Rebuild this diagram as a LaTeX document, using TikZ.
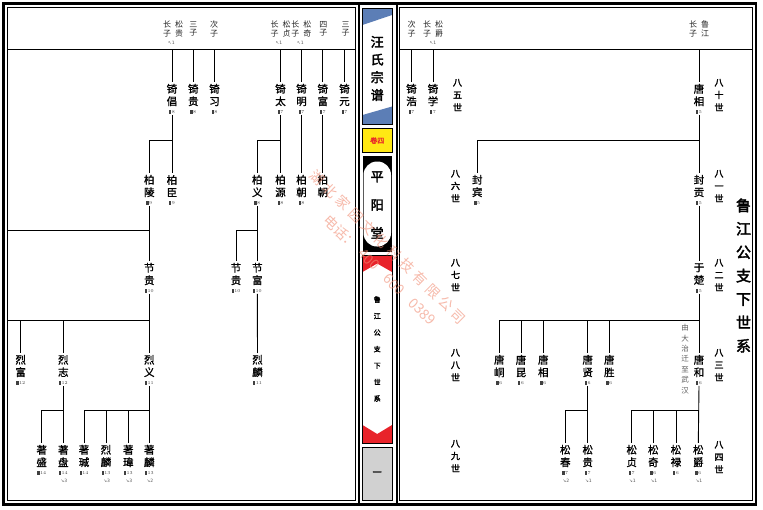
\documentclass[tikz,border=0pt]{standalone}
\usepackage{fontspec}
\newfontfamily\cjk{Noto Sans CJK SC}
\newfontfamily\cjkb[FakeBold=2.5]{Noto Sans CJK SC}
\newfontfamily\cjkm[FakeBold=1.2]{Noto Sans CJK SC}
\newfontfamily\dv{DejaVu Sans}
\newcommand\ico{\rule{2.3pt}{3.3pt}\hspace{0.5pt}}
\definecolor{bluep}{RGB}{92,126,182}
\definecolor{redp}{RGB}{232,35,42}
\definecolor{yelp}{RGB}{255,232,20}
\definecolor{wm}{RGB}{240,140,115}
\newcommand\per[5]{%
  \node[nm] (#1) at (#2,#3) {#4};
  \node[ic] (#1i) at (#2,#3+17) {\ico #5};}
\begin{document}
\begin{tikzpicture}[x=1pt,y=-1pt,
  nm/.style={font={\cjkm\fontsize{10.5}{12.5}\selectfont}, align=center, inner sep=1.8pt},
  ic/.style={font={\fontsize{4.5}{5}\selectfont}, inner sep=1pt, text=black!75},
  ar/.style={font={\dv\fontsize{4.5}{5}\selectfont}, inner sep=0.3pt, text=black!65},
  hd/.style={font={\cjk\fontsize{8}{8.4}\selectfont}, align=center, inner sep=0.5pt, text=black!85},
  gen/.style={font={\cjkb\fontsize{9}{12.5}\selectfont}, align=center},
  ln/.style={line width=0.9pt},
  panel/.style={line width=0.7pt}]
\useasboundingbox (0,0) rectangle (763,509);
% frames
\draw[line width=2.5pt] (3.5,3.5) rectangle (756,504.5);
\draw[line width=2pt] (358.5,3.5) -- (358.5,504.5);
\draw[line width=2pt] (396.5,3.5) -- (396.5,504.5);
\draw[line width=0.8pt] (7.5,7.5) rectangle (355.5,500.5);
\draw[line width=0.8pt] (399.5,7.5) rectangle (752.5,500.5);
\coordinate (hL) at (7.5,49);
\coordinate (hR) at (752.5,49);
\draw[line width=0.8pt] (hL) -- (355.5,49);
\draw[line width=0.8pt] (399.5,49) -- (hR);
% middle strip
\fill[bluep] (362.5,8) -- (392,8) -- (392,15) -- (362.5,25) -- cycle;
\fill[bluep] (362.5,115) -- (392,106.5) -- (392,124) -- (362.5,124) -- cycle;
\draw[panel] (362.5,8) rectangle (392,124);
\node[font={\cjkb\fontsize{13}{17.7}\selectfont}, align=center] (title1) at (377.2,68.5) {汪\\氏\\宗\\谱};
\filldraw[panel, fill=yelp] (362.5,128.5) rectangle (392,152.5);
\node[font={\cjkm\fontsize{7}{7}\selectfont}, text=redp] (vol) at (377.2,140.5) {卷四};
\fill (362.5,155.5) rectangle (392,251.5);
\fill[white, rounded corners=13.5pt] (363.5,161.5) rectangle (391,246.5);
\node[font={\cjkb\fontsize{13}{28.3}\selectfont}, align=center] (hall) at (377.2,205) {平\\阳\\堂};
\fill[redp] (362.5,255) -- (392,255) -- (392,272) -- (377.2,263.5) -- (362.5,272) -- cycle;
\fill[redp] (362.5,425) -- (377.2,434) -- (392,425) -- (392,443) -- (362.5,443) -- cycle;
\draw[panel] (362.5,255) rectangle (392,443);
\node[font={\cjkb\fontsize{7}{16.5}\selectfont}, align=center] (sub) at (377.2,349) {鲁\\江\\公\\支\\下\\世\\系};
\filldraw[panel, fill=black!18] (362.5,447) rectangle (392,500);
\node[font={\cjkb\fontsize{9}{9}\selectfont}] (one) at (377.2,473.5) {一};
% ===== left page headers
\node[hd] (h1) at (173,29) {长\hspace{4pt}松\\子\hspace{4pt}贵};
\node[ar] (h1a) at (171.5,43) {↖1};
\node[hd] (h2) at (193.3,29) {三\\子};
\node[hd] (h3) at (214,29) {次\\子};
\node[hd] (h4) at (280.5,29) {长\hspace{4pt}松\\子\hspace{4pt}贞};
\node[ar] (h4a) at (279,43) {↖1};
\node[hd] (h5) at (301.3,29) {长\hspace{4pt}松\\子\hspace{4pt}奇};
\node[ar] (h5a) at (300.5,43) {↖1};
\node[hd] (h6) at (323.3,29) {四\\子};
\node[hd] (h7) at (345.5,29) {三\\子};
% row A
\per{a1}{172}{95}{锜\\倡}{8}
\per{a2}{193.3}{95}{锜\\贵}{8}
\per{a3}{214.5}{95}{锜\\习}{8}
\per{a4}{280.5}{95}{锜\\太}{7}
\per{a5}{301.5}{95}{锜\\明}{7}
\per{a6}{322.8}{95}{锜\\富}{7}
\per{a7}{344.5}{95}{锜\\元}{7}
% row B
\per{b1}{149.3}{186}{柏\\陵}{9}
\per{b2}{172}{186}{柏\\臣}{9}
\per{b3}{257.3}{186}{柏\\义}{8}
\per{b4}{280.5}{186}{柏\\源}{8}
\per{b5}{301.5}{186}{柏\\朝}{8}
\node[nm] (b6) at (322.8,186) {柏\\朝};
% row C
\per{c1}{149.3}{274}{节\\贵}{10}
\per{c2}{236}{274}{节\\贵}{10}
\per{c3}{257.3}{274}{节\\富}{10}
% row D
\per{d1}{20.7}{366}{烈\\富}{12}
\per{d2}{63.3}{366}{烈\\志}{12}
\per{d3}{149.3}{366}{烈\\义}{11}
\per{d4}{257.5}{366}{烈\\麟}{11}
% row E
\per{e1}{41.7}{456}{著\\盛}{14}
\per{e2}{63.3}{456}{著\\盘}{14}
\node[ar] (e2a) at (64,481) {↘3};
\per{e3}{84}{456}{著\\瑊}{14}
\per{e4}{106}{456}{烈\\麟}{13}
\node[ar] (e4a) at (106.7,481) {↘3};
\per{e5}{128.3}{456}{著\\瑋}{13}
\node[ar] (e5a) at (129,481) {↘3};
\per{e6}{149.3}{456}{著\\麟}{13}
\node[ar] (e6a) at (150,481) {↘2};
% left connectors
\foreach \n in {a1,a2,a3,a4,a5,a6,a7} \draw[ln] (\n |- hL) -- (\n.north);
\draw[ln] (a1i.south) -- (b2.north);
\draw[ln] (a1i.south |- 0,140) -| (b1.north);
\draw[ln] (a4i.south) -- (b4.north);
\draw[ln] (a4i.south |- 0,140) -| (b3.north);
\draw[ln] (a5i.south) -- (b5.north);
\draw[ln] (a6i.south) -- (b6.north);
\coordinate (eL1) at (7.5,230);
\draw[ln] (b1i.south) -- (c1.north);
\draw[ln] (eL1) -- (b1 |- eL1);
\draw[ln] (b3i.south) -- (c3.north);
\draw[ln] (b3i.south |- 0,230) -| (c2.north);
\coordinate (eL2) at (7.5,320);
\draw[ln] (c1i.south) -- (d3.north);
\draw[ln] (eL2) -- (c1 |- eL2);
\draw[ln] (d1 |- eL2) -- (d1.north);
\draw[ln] (d2 |- eL2) -- (d2.north);
\draw[ln] (c3i.south) -- (d4.north);
\draw[ln] (d2i.south) -- (e2.north);
\draw[ln] (d2i.south |- 0,410) -| (e1.north);
\draw[ln] (d3i.south) -- (e6.north);
\draw[ln] (d3i.south |- 0,410) -| (e3.north);
\draw[ln] (e4 |- 0,410) -- (e4.north);
\draw[ln] (e5 |- 0,410) -- (e5.north);
% ===== right page headers
\node[hd] (rh1) at (411.5,29) {次\\子};
\node[hd] (rh2) at (433,29) {长\hspace{4pt}松\\子\hspace{4pt}爵};
\node[ar] (rh2a) at (433,43) {↖1};
\node[hd] (rh3) at (699,29) {长\hspace{4pt}鲁\\子\hspace{4pt}江};
% generations
\node[gen] (g85) at (457.5,95) {八\\五\\世};
\node[gen] (g86) at (455.5,186) {八\\六\\世};
\node[gen] (g87) at (455.5,275) {八\\七\\世};
\node[gen] (g88) at (455.5,365) {八\\八\\世};
\node[gen] (g89) at (455.5,456) {八\\九\\世};
\node[gen] (g80) at (719,95) {八\\十\\世};
\node[gen] (g81) at (719,186) {八\\一\\世};
\node[gen] (g82) at (719,275) {八\\二\\世};
\node[gen] (g83) at (719,365) {八\\三\\世};
\node[gen] (g84) at (719,457) {八\\四\\世};
\node[font={\cjkb\fontsize{15}{23.4}\selectfont}, align=center] (bigt) at (743.5,275.5) {鲁\\江\\公\\支\\下\\世\\系};
\node[font={\cjk\fontsize{7.5}{10.4}\selectfont}, align=center, text=black!65] (note) at (685,359) {由\\大\\治\\迁\\至\\武\\汉};
% right persons
\per{ra1}{411.5}{95}{锜\\浩}{7}
\per{ra2}{433}{95}{锜\\学}{7}
\per{ra3}{699}{95}{唐\\相}{5}
\per{rb1}{477.3}{186}{封\\宾}{5}
\per{rb2}{699}{186}{封\\贡}{5}
\per{rc1}{699}{274}{于\\楚}{5}
\per{rd1}{499.3}{366}{唐\\峒}{6}
\per{rd2}{521}{366}{唐\\昆}{6}
\per{rd3}{543.3}{366}{唐\\相}{6}
\per{rd4}{587.7}{366}{唐\\贤}{6}
\per{rd5}{609.3}{366}{唐\\胜}{6}
\per{rd6}{699}{366}{唐\\和}{6}
\per{re1}{565.3}{456}{松\\春}{7}
\node[ar] (re1a) at (566,481) {↘2};
\per{re2}{587.7}{456}{松\\贵}{7}
\node[ar] (re2a) at (588.4,481) {↘1};
\per{re3}{631.7}{456}{松\\贞}{7}
\node[ar] (re3a) at (632.4,481) {↘1};
\per{re4}{653.3}{456}{松\\奇}{6}
\node[ar] (re4a) at (654,481) {↘1};
\per{re5}{676}{456}{松\\禄}{6}
\per{re6}{698.3}{456}{松\\爵}{6}
\node[ar] (re6a) at (699,481) {↘1};
% right connectors
\foreach \n in {ra1,ra2,ra3} \draw[ln] (\n |- hR) -- (\n.north);
\draw[ln] (ra3i.south) -- (rb2.north);
\draw[ln] (ra3i.south |- 0,140) -| (rb1.north);
\draw[ln] (rb2i.south) -- (rc1.north);
\draw[ln] (rc1i.south) -- (rd6.north);
\draw[ln] (rc1i.south |- 0,320) -| (rd1.north);
\foreach \n in {rd2,rd3,rd4,rd5} \draw[ln] (\n |- 0,320) -- (\n.north);
\draw[ln] (rd4i.south) -- (re2.north);
\draw[ln] (rd4i.south |- 0,410) -| (re1.north);
\draw[ln] (rd6i.south) -- (re6.north);
\draw[ln] (rd6i.south |- 0,410) -| (re3.north);
\draw[ln] (re4 |- 0,410) -- (re4.north);
\draw[ln] (re5 |- 0,410) -- (re5.north);
% watermark
\node[rotate=-44.5, text=wm, opacity=0.6, font={\cjk\fontsize{14}{14}\selectfont}] (wm1) at (388,247) {湖\kern4pt 北\kern4pt 家\kern4pt 园\kern4pt 文\kern4pt 化\kern4pt 科\kern4pt 技\kern4pt 有\kern4pt 限\kern4pt 公\kern4pt 司};
\node[rotate=-44.5, text=wm, opacity=0.6, font={\cjk\fontsize{14}{14}\selectfont}] (wm2) at (380,270) {电话：\kern6pt 400\kern12pt 600\kern12pt 0389};
\end{tikzpicture}
\end{document}
